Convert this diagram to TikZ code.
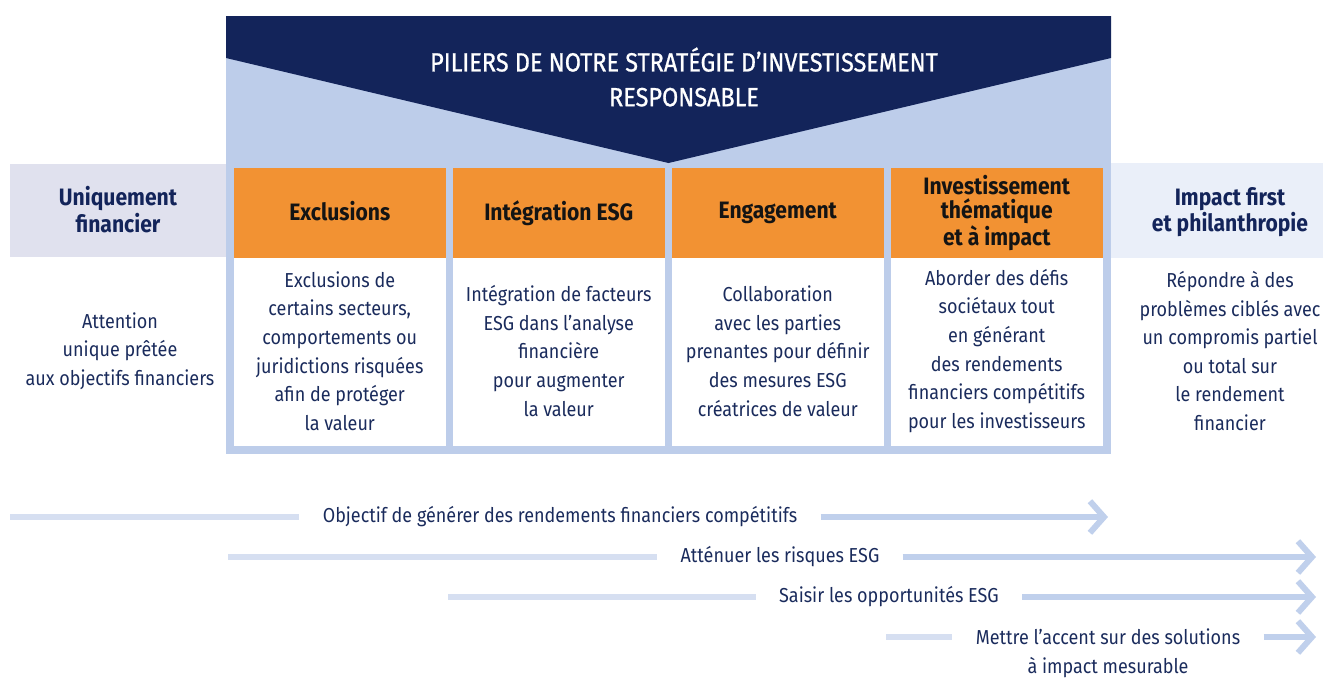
\documentclass[tikz,border=0pt]{standalone}
\usepackage{fontspec}
\setmainfont{Fira Sans}[FakeStretch=0.89]
\newfontfamily\titlefont{Fira Sans}[FakeStretch=0.89, FakeBold=0.8]
\usetikzlibrary{arrows.meta}

\definecolor{navy}{HTML}{13245A}
\definecolor{framelight}{HTML}{BDCDEA}
\definecolor{pillarorange}{HTML}{F29233}
\definecolor{sidegrey}{HTML}{E0E1EE}
\definecolor{sideblue}{HTML}{EAEFF9}
\definecolor{inktext}{HTML}{1A2B5C}
\definecolor{arrowblue}{HTML}{C0D0EC}
\definecolor{arrowpale}{HTML}{D6DFF1}

\tikzset{
    head/.style={font=\fontsize{13.5}{13.6}\selectfont\bfseries, align=center, text=black!92,
        execute at begin node=\strut, execute at end node=\strut},
    body/.style={font=\fontsize{11.5}{16.3}\selectfont, align=center, text=inktext},
    goal/.style={font=\fontsize{11.5}{16.3}\selectfont, text=inktext, inner xsep=0.46cm, inner ysep=0pt},
    bar/.style={line width=0.12cm},
}

\begin{document}
\begin{tikzpicture}[x=0.02cm, y=-0.02cm]
\useasboundingbox (0,0) rectangle (1323,677);

% Frame behind the pillars
\fill[framelight] (226,16) rectangle (1111,454);
\fill[navy] (226,16) -- (1111,16) -- (1111,58) -- (668.5,163) -- (226,58) -- cycle;
\node[font=\fontsize{15}{19.8}\selectfont\titlefont, text=white, align=center] (title) at (684,77)
    {PILIERS DE NOTRE STRATÉGIE D’INVESTISSEMENT\\RESPONSABLE};

% Side columns
\fill[sidegrey] (10,164) rectangle (226,257);
\fill[sideblue] (1111,163) rectangle (1323,258);
\node[head, text=navy] (finhead) at (118,213) {Uniquement\\financier};
\node[head, text=navy] (philhead) at (1230,213) {Impact first\\et philanthropie};
\node[body] (fintext) at (120,351) {Attention\\unique prêtée\\aux objectifs financiers};
\node[body] (philtext) at (1230,351)
    {Répondre à des\\problèmes ciblés avec\\un compromis partiel\\ou total sur\\le rendement\\financier};

% Pillars
\foreach \i/\hd/\txt in {
    1/{Exclusions}/{Exclusions de\\certains secteurs,\\comportements ou\\juridictions risquées\\afin de protéger\\la valeur},
    2/{Intégration ESG}/{Intégration de facteurs\\ESG dans l’analyse\\financière\\pour augmenter\\la valeur},
    3/{Engagement}/{Collaboration\\avec les parties\\prenantes pour définir\\des mesures ESG\\créatrices de valeur},
    4/{Investissement\\thématique\\et à impact}/{Aborder des défis\\sociétaux tout\\en générant\\des rendements\\financiers compétitifs\\pour les investisseurs}} {
    \pgfmathsetmacro{\xl}{234+(\i-1)*219}
    \fill[pillarorange] (\xl,168) rectangle ++(211.5,90);
    \fill[white] (\xl,258) rectangle ++(211.5,188);
    \node[head] (pillar\i) at (\xl+105.75,214) {\hd};
    \node[body] (pillartext\i) at (\xl+105.75,351) {\txt};
}

% Objectives along the spectrum
\node[goal] (goal1) at (560,517) {Objectif de générer des rendements financiers compétitifs};
\node[goal] (goal2) at (780,557) {Atténuer les risques ESG};
\node[goal] (goal3) at (889,597) {Saisir les opportunités ESG};
\node[goal] (goal4) at (1108,637) {Mettre l’accent sur des solutions};
\node[goal, anchor=base] (goal4b) at ([yshift=-16.3pt]goal4.base) {à impact mesurable};

\coordinate (start1) at (10,517);  \coordinate (end1) at (1108,517);
\coordinate (start2) at (228,557); \coordinate (end2) at (1316,557);
\coordinate (start3) at (448,597); \coordinate (end3) at (1316,597);
\coordinate (start4) at (886,637); \coordinate (end4) at (1316,637);

\foreach \n in {1,2,3,4} {
    \draw[bar, arrowpale] (start\n) -- (goal\n.west);
    \draw[bar, arrowblue, -{Straight Barb[length=8pt, width=18pt]}] (goal\n.east) -- (end\n);
}
\end{tikzpicture}
\end{document}
